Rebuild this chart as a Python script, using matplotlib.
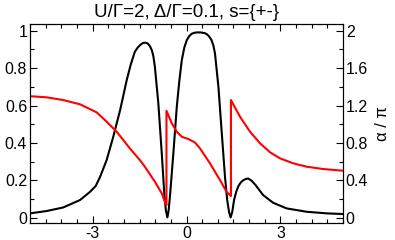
import matplotlib
matplotlib.use("Agg")
import matplotlib.pyplot as plt
from matplotlib.ticker import MultipleLocator, FuncFormatter

plt.rcParams['font.family'] = ['Liberation Sans', 'DejaVu Sans']

# black curve (left axis)
bx = [-5.0, -4.47, -3.94, -3.4, -3.08, -2.9, -2.76, -2.55, -2.34, -2.12, -1.91, -1.78,
      -1.65, -1.55, -1.45, -1.38, -1.31, -1.24, -1.17, -1.11, -1.06, -1.01, -0.9, -0.79,
      -0.71, -0.66, -0.61, -0.57, -0.53, -0.42, -0.31, -0.23, -0.15, -0.07, 0.01, 0.09,
      0.17, 0.25, 0.33, 0.45, 0.59, 0.66, 0.72, 0.80, 0.86, 0.91, 1.02, 1.12, 1.23, 1.30,
      1.36, 1.41, 1.46, 1.52, 1.59, 1.66, 1.74, 1.81, 1.89, 1.97, 2.08, 2.19, 2.45, 2.77,
      3.2, 3.84, 4.48, 5.0]
by = [0.0235, 0.036, 0.055, 0.095, 0.139, 0.17, 0.219, 0.309, 0.433, 0.576, 0.736, 0.82,
      0.888, 0.912, 0.928, 0.935, 0.936, 0.932, 0.918, 0.897, 0.865, 0.807, 0.612, 0.344,
      0.13, 0.04, 0.002, 0.04, 0.112, 0.344, 0.594, 0.73, 0.843, 0.91, 0.95, 0.972,
      0.984, 0.989, 0.991, 0.991, 0.987, 0.98, 0.97, 0.95, 0.92, 0.879, 0.70, 0.469, 0.219, 0.095,
      0.03, 0.002, 0.03, 0.095, 0.14, 0.17, 0.19, 0.2, 0.207, 0.21, 0.198, 0.178, 0.121, 0.08,
      0.05, 0.032, 0.0235, 0.02]

# red curve (right axis, alpha/pi)
rx = [-5.0, -4.47, -3.94, -3.4, -2.87, -2.55, -2.23, -1.81, -1.49, -1.33, -1.01, -0.79,
      -0.69, -0.64, -0.64, -0.47, -0.31, -0.15, 0.06, 0.27, 0.43, 0.75, 1.07, 1.28, 1.42,
      1.42, 1.71, 2.03, 2.35, 2.67, 2.99, 3.41, 3.84, 4.37, 5.0]
ry = [1.30, 1.288, 1.259, 1.213, 1.127, 1.027, 0.92, 0.742, 0.617, 0.546, 0.385, 0.261,
      0.17, 0.136, 1.144, 1.01, 0.92, 0.866, 0.842, 0.805, 0.742, 0.582, 0.403, 0.278, 0.232,
      1.259, 1.08, 0.92, 0.796, 0.70, 0.635, 0.582, 0.546, 0.521, 0.503]

title = "U/\u0393=2, \u0394/\u0393=0.1, s={+-}"

fig = plt.figure(figsize=(3.95, 2.4), dpi=100)
ax = fig.add_axes([30/395, 17/240, 313/395, 199/240])
ax2 = ax.twinx()

ax.plot(bx, by, color='black', lw=1.5, solid_joinstyle='round')
ax2.plot(rx, ry, color='red', lw=1.5, solid_joinstyle='round')

ylo, yhi = -0.028, 1.036
ax.set_xlim(-5, 5)
ax.set_ylim(ylo, yhi)
ax2.set_ylim(2*ylo, 2*yhi)

ax.xaxis.set_major_locator(MultipleLocator(3))
ax.xaxis.set_minor_locator(MultipleLocator(0.5))
ax.yaxis.set_major_locator(MultipleLocator(0.2))
ax.yaxis.set_minor_locator(MultipleLocator(0.1))
ax2.yaxis.set_major_locator(MultipleLocator(0.4))
ax2.yaxis.set_minor_locator(MultipleLocator(0.2))

fmt = FuncFormatter(lambda v, p: ('%g' % round(v, 2)))
ax.yaxis.set_major_formatter(fmt)
ax2.yaxis.set_major_formatter(fmt)
ax.xaxis.set_major_formatter(fmt)

ax.tick_params(axis='both', which='both', direction='in', labelsize=11.5, pad=2)
ax.tick_params(axis='x', which='both', top=True)
ax.tick_params(axis='y', which='both', right=False)
ax.tick_params(which='major', length=5, width=0.8)
ax.tick_params(which='minor', length=3, width=0.8)
ax2.tick_params(axis='y', which='both', direction='in', labelsize=11.5, pad=2)
ax2.tick_params(which='major', length=5, width=0.8)
ax2.tick_params(which='minor', length=3, width=0.8)

ax2.set_ylabel("\u03b1 / \u03c0", fontsize=12, labelpad=5)
ax.set_title(title, fontsize=13.5, pad=5)

for s in ax.spines.values():
    s.set_linewidth(0.8)
for s in ax2.spines.values():
    s.set_linewidth(0.8)

fig.savefig("out.png", dpi=100)
